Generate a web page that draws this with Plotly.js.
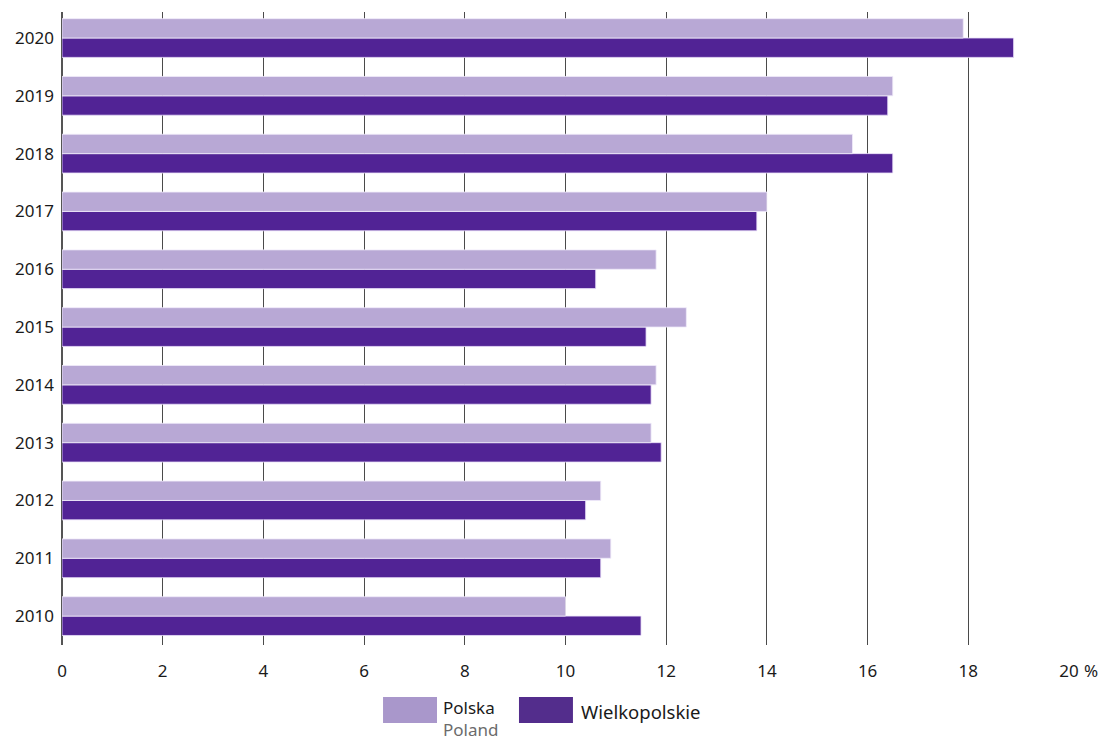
<!DOCTYPE html>
<html><head><meta charset="utf-8">
<script src="https://cdn.plot.ly/plotly-3.0.1.min.js"></script>
<style>html,body{margin:0;padding:0;background:#fff}#chart{width:1107px;height:742px}</style>
</head><body><div id="chart"></div>
<script>
const years = ["2010","2011","2012","2013","2014","2015","2016","2017","2018","2019","2020"];
const polska = [10.0,10.9,10.7,11.7,11.8,12.4,11.8,14.0,15.7,16.5,17.9];
const wielkopolskie = [11.5,10.7,10.4,11.9,11.7,11.6,10.6,13.8,16.5,16.4,18.9];
const xTickVals = [0,2,4,6,8,10,12,14,16,18,20];
const xTickText = ["0","2","4","6","8","10","12","14","16","18","20"];
const seriesNames = ["Polska","Wielkopolskie"];
const seriesSub = "Poland";

const colP = "#b8a8d5", colW = "#512395";
const font = "Noto Sans, sans-serif";

const traces = [
  {type:"bar", orientation:"h", y:years, x:wielkopolskie, name:seriesNames[1],
   marker:{color:colW, line:{color:"rgba(235,225,250,0.8)", width:1}}, hoverinfo:"x+y"},
  {type:"bar", orientation:"h", y:years, x:polska, name:seriesNames[0],
   marker:{color:colP, line:{color:"rgba(240,235,250,0.8)", width:1}}, hoverinfo:"x+y"}
];

const layout = {
  width:1107, height:742,
  margin:{l:62, r:38, t:12, b:97},
  paper_bgcolor:"#fff", plot_bgcolor:"#fff",
  barmode:"group", bargap:0.33, bargroupgap:0,
  showlegend:false,
  font:{family:font, size:17, color:"#1a1a1a"},
  xaxis:{range:[0,20], tickvals:xTickVals, ticktext:xTickText, showgrid:true,
    gridcolor:"#4a4a4a", gridwidth:1, zeroline:true, zerolinecolor:"#555", zerolinewidth:2,
    showline:false, ticks:"", ticklabelstandoff:14, tickfont:{family:font,size:17,color:"#1a1a1a"}, fixedrange:true},
  yaxis:{type:"category", categoryorder:"array", categoryarray:years, range:[-0.5,10.45],
    showgrid:false, zeroline:false, showline:false, ticks:"", ticklabelstandoff:7,
    tickfont:{family:font,size:17,color:"#1a1a1a"}, fixedrange:true},
  shapes:[
    {type:"rect", xref:"paper", yref:"paper", x0:0.3188, x1:0.3724, y0:-0.1232, y1:-0.0821, fillcolor:"#a997cb", line:{width:0}},
    {type:"rect", xref:"paper", yref:"paper", x0:0.4538, x1:0.5074, y0:-0.1232, y1:-0.0821, fillcolor:"#532d8c", line:{width:0}}
  ],
  annotations:[
    {xref:"paper", yref:"paper", x:0.3774, y:-0.0785, xanchor:"left", yanchor:"top", align:"left", borderpad:0,
     text:seriesNames[0] + "<br><span style='color:#6b6b6b'>" + seriesSub + "</span>", showarrow:false,
     font:{family:font,size:17,color:"#1a1a1a"}},
    {xref:"paper", yref:"paper", x:0.5134, y:-0.1043, xanchor:"left", yanchor:"middle", text:seriesNames[1], showarrow:false, font:{family:font,size:18.5,color:"#1a1a1a"}},
    {xref:"paper", yref:"paper", x:1, y:-0.0395, xshift:13, xanchor:"left", yanchor:"middle", text:"%", showarrow:false, font:{family:font,size:17,color:"#1a1a1a"}}
  ]
};
Plotly.newPlot("chart", traces, layout, {displayModeBar:false, staticPlot:true});
</script></body></html>
